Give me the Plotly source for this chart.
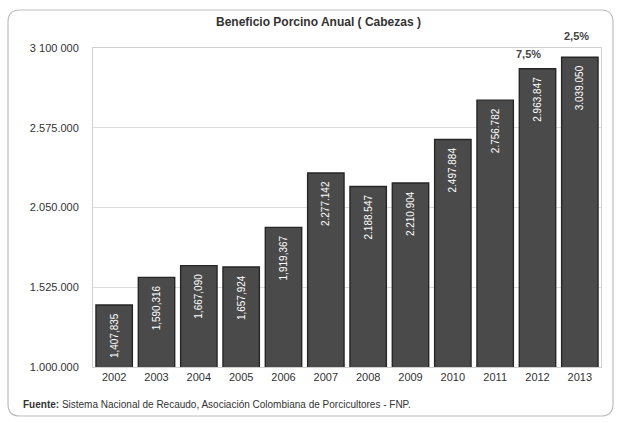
import plotly.graph_objects as go

years = ["2002", "2003", "2004", "2005", "2006", "2007", "2008", "2009", "2010", "2011", "2012", "2013"]
values = [1407835, 1590316, 1667090, 1657924, 1919367, 2277142, 2188547, 2210904, 2497884, 2756782, 2963847, 3039050]
value_labels = ["1,407,835", "1,590,316", "1,667,090", "1,657,924", "1,919,367", "2.277.142",
                "2.188.547", "2.210.904", "2.497.884", "2.756.782", "2.963.847", "3.039.050"]
tick_vals = [1000000, 1525000, 2050000, 2575000, 3100000]
tick_text = ["1.000.000", "1.525.000", "2.050.000", "2.575.000", "3 100 000"]
growth_years = ["2012", "2013"]
growth_labels = ["7,5%", "2,5%"]

W, H = 621, 423
L, R, T, B = 93, 20, 48, 56
PW, PH = W - L - R, H - T - B

def px(x):
    return (x - L) / PW

def py(y):
    return (H - B - y) / PH

FONT = "Liberation Sans, Arial, sans-serif"
PAD = "\u00a0\u00a0"

fig = go.Figure()
fig.add_trace(go.Bar(
    x=years, y=values, text=[t + PAD for t in value_labels],
    textposition="inside", insidetextanchor="end", textangle=-90,
    constraintext="none",
    textfont=dict(color="white", size=10, family=FONT),
    marker=dict(color="#4a4a4a", line=dict(color="#262626", width=1.4)),
))

annotations = []
val_map = dict(zip(years, values))
shifts = {"2012": (-9, 7), "2013": (-3, 13)}
for yr, lab in zip(growth_years, growth_labels):
    xs, ys = shifts[yr]
    annotations.append(dict(
        x=years.index(yr), y=val_map[yr], xref="x", yref="y", text="<b>" + lab + "</b>",
        showarrow=False, yanchor="bottom", xshift=xs, yshift=ys,
        font=dict(size=11, color="#444", family=FONT)))

annotations.append(dict(
    x=px(318), y=py(22), xref="paper", yref="paper",
    text="<b>Beneficio Porcino Anual ( Cabezas )</b>", showarrow=False,
    xanchor="center", yanchor="middle", font=dict(size=12, color="#333", family=FONT)))
annotations.append(dict(
    x=px(21), y=py(404), xref="paper", yref="paper",
    text="<b>Fuente:</b> Sistema Nacional de Recaudo, Asociación Colombiana de Porcicultores - FNP.",
    showarrow=False, xanchor="left", yanchor="middle",
    font=dict(size=10, color="#333", family=FONT)))

# rounded outer frame
x0, x1, y0, y1, r = px(8), px(613), py(10), py(416), 12
rx, ry = r / PW, r / PH
path = (f"M {x0+rx} {y0} L {x1-rx} {y0} Q {x1} {y0} {x1} {y0-ry} "
        f"L {x1} {y1+ry} Q {x1} {y1} {x1-rx} {y1} "
        f"L {x0+rx} {y1} Q {x0} {y1} {x0} {y1+ry} "
        f"L {x0} {y0-ry} Q {x0} {y0} {x0+rx} {y0} Z")

fig.update_layout(
    width=W, height=H,
    margin=dict(l=L, r=R, t=T, b=B),
    paper_bgcolor="white", plot_bgcolor="white",
    showlegend=False, bargap=0.14,
    font=dict(family=FONT, color="#333"),
    annotations=annotations,
    shapes=[dict(type="path", path=path, xref="paper", yref="paper",
                 line=dict(color="#bdbdbd", width=1.2), layer="below")],
    xaxis=dict(type="category", range=[-0.5, len(years) - 0.5], showgrid=False,
               showline=True, linecolor="#d0d0d0", mirror=True,
               ticks="", tickfont=dict(size=11, color="#333")),
    yaxis=dict(range=[1000000, 3100000], tickvals=tick_vals, ticktext=tick_text,
               showgrid=True, gridcolor="#dcdcdc", gridwidth=1,
               showline=True, linecolor="#d0d0d0", mirror=True, zeroline=False,
               ticks="", ticklabelstandoff=11, tickfont=dict(size=11, color="#333")),
)

fig.write_html("out.html")
